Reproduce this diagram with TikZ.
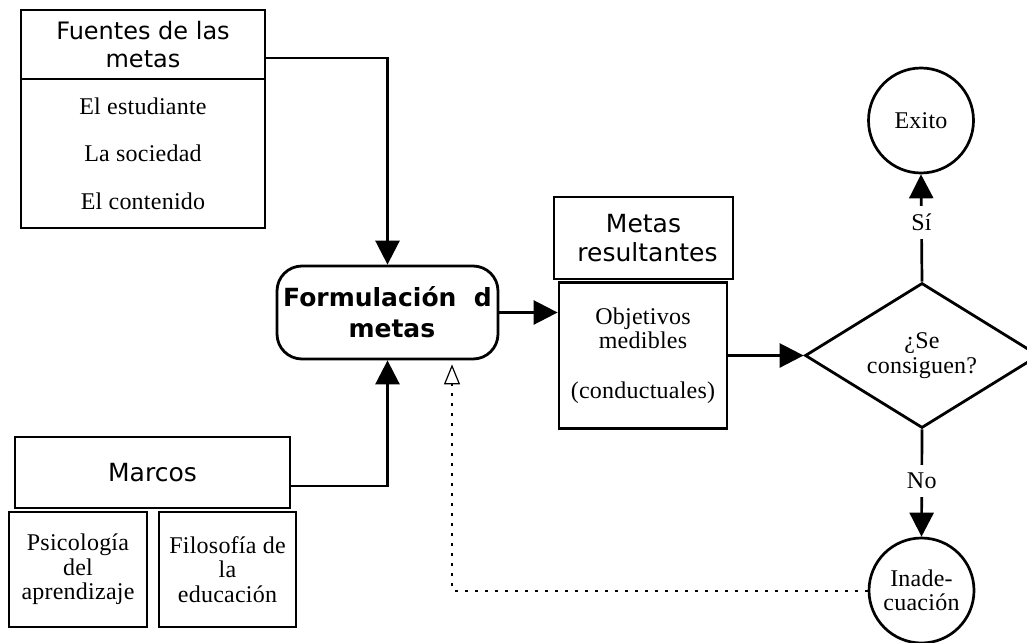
\documentclass[tikz,border=0pt]{standalone}
\usepackage{fontspec}
\setmainfont{Liberation Serif}[LetterSpace=1]
\newfontfamily\headfont{DejaVu Sans}
\usetikzlibrary{arrows.meta,shapes.geometric,calc}

\begin{document}
\begin{tikzpicture}[x=1pt,y=-1pt,
  box/.style={draw, line width=2.8pt, rectangle, inner sep=0pt, align=center},
  serif/.style={font=\fontsize{24}{24.5}\selectfont},
  headtxt/.style={font=\headfont\fontsize{24}{28}\selectfont},
  conn/.style={line width=2.7pt, -{Triangle[length=24pt,width=24pt]}},
  lbl/.style={fill=white, serif, inner xsep=1pt, inner ysep=8pt},
  endcircle/.style={draw, circle, line width=2.7pt, minimum size=105pt, inner sep=0pt, serif, align=center}
]
\clip (0,0) rectangle (1027,642);

% sources of the goals
\node[box, headtxt, minimum width=244pt, minimum height=69pt] (fhead) at (143,44.5) {Fuentes de las\\metas};
\node[box, serif, minimum width=244pt, minimum height=149pt] (fbody) at (143,153.5)
  {El estudiante\\[23pt]La sociedad\\[23pt]El contenido};

% goal formulation
\node[box, rounded corners=25pt, minimum width=221pt, minimum height=93pt,
  font=\headfont\bfseries\fontsize{25}{31}\selectfont] (form) at (387.5,312.5)
  {Formulación\ \ d\\\ metas};

% frameworks
\node[box, font=\headfont\fontsize{25}{30}\selectfont, minimum width=275pt, minimum height=71pt] (marcos) at (152.5,472.5) {Marcos};
\node[box, serif, minimum width=138pt, minimum height=115pt] (psico) at (78,569.5) {Psicología\\del\\aprendizaje};
\node[box, serif, minimum width=137pt, minimum height=115pt] (filo) at (227.5,569.5) {Filosofía de\\la\\educación};

% resulting goals
\node[box, font=\headfont\fontsize{25}{29}\selectfont, minimum width=179pt, minimum height=82pt] (mhead) at (643.5,238) {Metas\\\ resultantes};
\node[box, serif, minimum width=168pt, minimum height=146pt] (mbody) at (643,355.5)
  {Objetivos\\medibles\\[25pt](conductuales)};

% decision and outcomes
\node[diamond, draw, line width=2.8pt, minimum width=234pt, minimum height=145pt, aspect=1.6,
  inner sep=0pt, serif, align=center] (dec) at (922,355.5) {¿Se\\consiguen?};
\node[endcircle] (exito) at (921,120.5) {Exito};
\node[endcircle] (inade) at (921.5,590.5) {Inade-\\cuación};

% connectors
\draw[conn] ([yshift=-13.5pt]fhead.east) -| (form.north);
\draw[conn] ([yshift=-13.5pt]marcos.east) -| (form.south);
\draw[conn] (form.east) -- (form.east -| mbody.west);
\draw[conn] (mbody.east) -- (dec.west);
\draw[conn] (dec.north) -- node[lbl, pos=0.55] {Sí} (exito.south);
\draw[conn] (dec.south) -- node[lbl, pos=0.48] {No} (inade.north);

% feedback loop
\coordinate (fbtip) at ([xshift=64.5pt, yshift=-4pt]form.south);
\draw[line width=2pt, dash pattern=on 3pt off 7pt,
  -{Triangle[open, length=20pt, width=16pt, line width=1.2pt]}] (inade.west) -| (fbtip);
\end{tikzpicture}
\end{document}
